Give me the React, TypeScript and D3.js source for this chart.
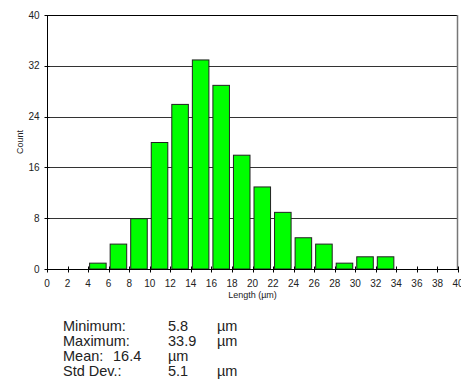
import React, { useRef, useEffect } from "react";
import * as d3 from "d3";

const W = 461;
const H = 389;
const MARGIN = { top: 15, right: 3, bottom: 120, left: 47 };

// histogram bins (lower edge, µm) and counts
const BIN_STARTS = [4, 6, 8, 10, 12, 14, 16, 18, 20, 22, 24, 26, 28, 30, 32];
const COUNTS = [1, 4, 8, 20, 26, 33, 29, 18, 13, 9, 5, 4, 1, 2, 2];
const BIN_WIDTH = 2;

const X_TICKS = d3.range(0, 41, 2);
const Y_TICKS = [0, 8, 16, 24, 32, 40];

// statistics block: each row is a list of [text, x] cells
const STAT_ROWS: [string, number][][] = [
  [["Minimum:", 63], ["5.8", 168], ["µm", 217]],
  [["Maximum:", 63], ["33.9", 168], ["µm", 217]],
  [["Mean:", 63], ["16.4", 113], ["µm", 168]],
  [["Std Dev.:", 63], ["5.1", 168], ["µm", 217]],
];

export default function App() {
  const svgRef = useRef<SVGSVGElement>(null);

  useEffect(() => {
    const svg = d3.select(svgRef.current);
    svg.selectAll("*").remove();

    const innerW = W - MARGIN.left - MARGIN.right;
    const innerH = H - MARGIN.top - MARGIN.bottom;

    const x = d3.scaleLinear().domain([0, 40]).range([0, innerW]);
    const y = d3.scaleLinear().domain([0, 40]).range([innerH, 0]);

    const g = svg
      .append("g")
      .attr("transform", `translate(${MARGIN.left},${MARGIN.top})`);

    // ── Grid lines ──────────────────────────────────────────
    g.selectAll("line.grid")
      .data(Y_TICKS.filter((t) => t > 0))
      .join("line")
      .attr("class", "grid")
      .attr("x1", 0)
      .attr("x2", innerW)
      .attr("y1", (d) => Math.round(y(d)) + 0.5)
      .attr("y2", (d) => Math.round(y(d)) + 0.5)
      .attr("stroke", (d) => (d === 40 ? "#000" : "#333"))
      .attr("stroke-width", 1);

    // right border
    g.append("line")
      .attr("x1", innerW - 0.5)
      .attr("x2", innerW - 0.5)
      .attr("y1", 0)
      .attr("y2", innerH)
      .attr("stroke", "#777")
      .attr("stroke-width", 1.5);

    // ── Bars ────────────────────────────────────────────────
    g.selectAll("rect.bar")
      .data(BIN_STARTS.map((s, i) => ({ s, c: COUNTS[i] })))
      .join("rect")
      .attr("class", "bar")
      .attr("x", (d) => x(d.s) + 1.5)
      .attr("width", x(BIN_WIDTH) - x(0) - 4)
      .attr("y", (d) => y(d.c) + 0.5)
      .attr("height", (d) => innerH - y(d.c) - 0.5)
      .attr("fill", "#00ff00")
      .attr("stroke", "#222")
      .attr("stroke-width", 1);

    // ── Axes ────────────────────────────────────────────────
    const xAxis = g
      .append("g")
      .attr("transform", `translate(0,${Math.round(innerH) + 0.5})`);
    xAxis
      .append("line")
      .attr("x1", 0)
      .attr("x2", innerW)
      .attr("stroke", "#000");
    xAxis
      .selectAll("line.tick")
      .data(X_TICKS)
      .join("line")
      .attr("class", "tick")
      .attr("x1", (d) => Math.round(x(d)) + 0.5)
      .attr("x2", (d) => Math.round(x(d)) + 0.5)
      .attr("y1", -3)
      .attr("y2", 3)
      .attr("stroke", "#000");
    xAxis
      .selectAll("text")
      .data(X_TICKS)
      .join("text")
      .attr("x", (d) => x(d))
      .attr("y", 17)
      .attr("text-anchor", "middle")
      .attr("font-size", 10)
      .attr("fill", "#222")
      .text((d) => d);

    const yAxis = g.append("g").attr("transform", "translate(0.5,0)");
    yAxis
      .append("line")
      .attr("y1", 0)
      .attr("y2", innerH)
      .attr("stroke", "#000");
    yAxis
      .selectAll("line.tick")
      .data(Y_TICKS)
      .join("line")
      .attr("class", "tick")
      .attr("x1", -3)
      .attr("x2", 2)
      .attr("y1", (d) => Math.round(y(d)) + 0.5)
      .attr("y2", (d) => Math.round(y(d)) + 0.5)
      .attr("stroke", "#000");
    yAxis
      .selectAll("text")
      .data(Y_TICKS)
      .join("text")
      .attr("x", -8)
      .attr("y", (d) => y(d))
      .attr("dy", "0.35em")
      .attr("text-anchor", "end")
      .attr("font-size", 10)
      .attr("fill", "#222")
      .text((d) => d);

    // ── Axis labels ─────────────────────────────────────────
    svg
      .append("text")
      .attr("x", MARGIN.left + innerW / 2)
      .attr("y", MARGIN.top + innerH + 29)
      .attr("text-anchor", "middle")
      .attr("font-size", 9)
      .attr("fill", "#222")
      .text("Length (µm)");

    svg
      .append("text")
      .attr("transform", `translate(23,${MARGIN.top + innerH / 2}) rotate(-90)`)
      .attr("text-anchor", "middle")
      .attr("font-size", 9)
      .attr("fill", "#222")
      .text("Count");

    // ── Statistics block ────────────────────────────────────
    const stats = svg.append("g").attr("font-size", 14.5).attr("fill", "#222");
    STAT_ROWS.forEach((row, i) => {
      const by = 331 + i * 15;
      row.forEach(([txt, tx]) => {
        stats.append("text").attr("x", tx).attr("y", by).text(txt);
      });
    });
  }, []);

  return (
    <svg
      ref={svgRef}
      width={W}
      height={H}
      style={{
        position: "absolute",
        left: 0,
        top: 0,
        background: "#fff",
        fontFamily: "Arial, 'Liberation Sans', sans-serif",
      }}
    />
  );
}
